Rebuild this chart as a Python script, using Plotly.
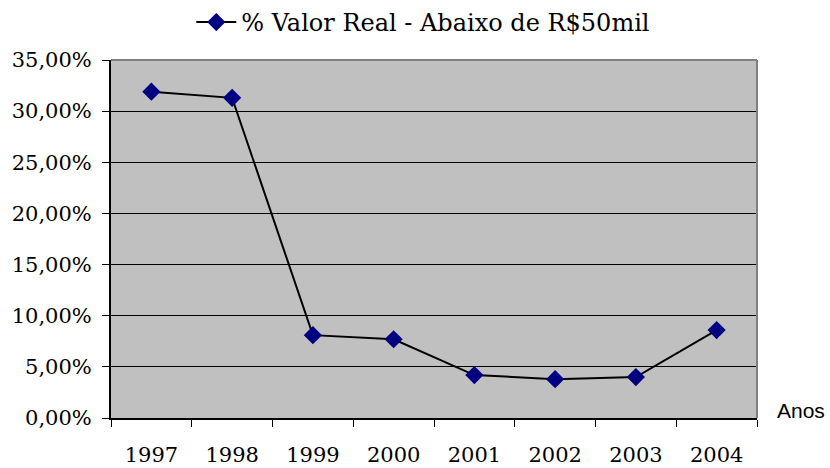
import plotly.graph_objects as go

years = ["1997", "1998", "1999", "2000", "2001", "2002", "2003", "2004"]
valor_real = [31.9, 31.3, 8.1, 7.7, 4.2, 3.8, 4.0, 8.6]
series_name = "% Valor Real - Abaixo de R$50mil"
y_ticks = [0, 5, 10, 15, 20, 25, 30, 35]
y_tick_text = [f"{v:.2f}".replace(".", ",") + "%" for v in y_ticks]

fig = go.Figure()
fig.add_trace(go.Scatter(
    x=years, y=valor_real, name=series_name, mode="lines+markers",
    line=dict(color="black", width=2),
    marker=dict(symbol="diamond", size=14, color="#000080"),
    showlegend=True,
))

fig.update_layout(
    width=830, height=468,
    margin=dict(l=111, r=73, t=60, b=50, autoexpand=False),
    paper_bgcolor="white", plot_bgcolor="#C0C0C0",
    font=dict(family="DejaVu Serif", size=21, color="black"),
    showlegend=True,
    legend=dict(orientation="h", xref="container", yref="container",
                x=0.51, xanchor="center", y=1.0, yanchor="top",
                font=dict(family="DejaVu Serif", size=24),
                itemwidth=40, bgcolor="rgba(0,0,0,0)"),
    xaxis=dict(type="category", tickson="boundaries", ticks="outside",
               ticklen=7, tickcolor="black", showline=True, linecolor="black",
               linewidth=2, showgrid=False, ticklabelstandoff=17,
               range=[-0.5, 7.5], automargin=False),
    yaxis=dict(range=[0, 35], tickvals=y_ticks, ticktext=y_tick_text,
               ticks="outside", ticklen=7, tickcolor="black", showline=True,
               linecolor="black", linewidth=2, showgrid=True, gridcolor="black",
               gridwidth=1, zeroline=False, ticklabelstandoff=6,
               automargin=False),
    shapes=[
        dict(type="line", xref="paper", yref="paper", x0=0, x1=1, y0=1, y1=1,
             line=dict(color="#808080", width=2), layer="above"),
        dict(type="line", xref="paper", yref="paper", x0=1, x1=1, y0=0, y1=1,
             line=dict(color="#808080", width=2), layer="above"),
    ],
    annotations=[
        dict(text="Anos", xref="paper", yref="paper", x=1.028, y=0.02,
             xanchor="left", yanchor="middle", showarrow=False,
             font=dict(family="Liberation Sans", size=21, color="black")),
    ],
)

fig.write_html(
    "out.html",
    config={"displayModeBar": False},
    post_script="document.body.style.margin='0';document.body.style.overflow='hidden';",
)
